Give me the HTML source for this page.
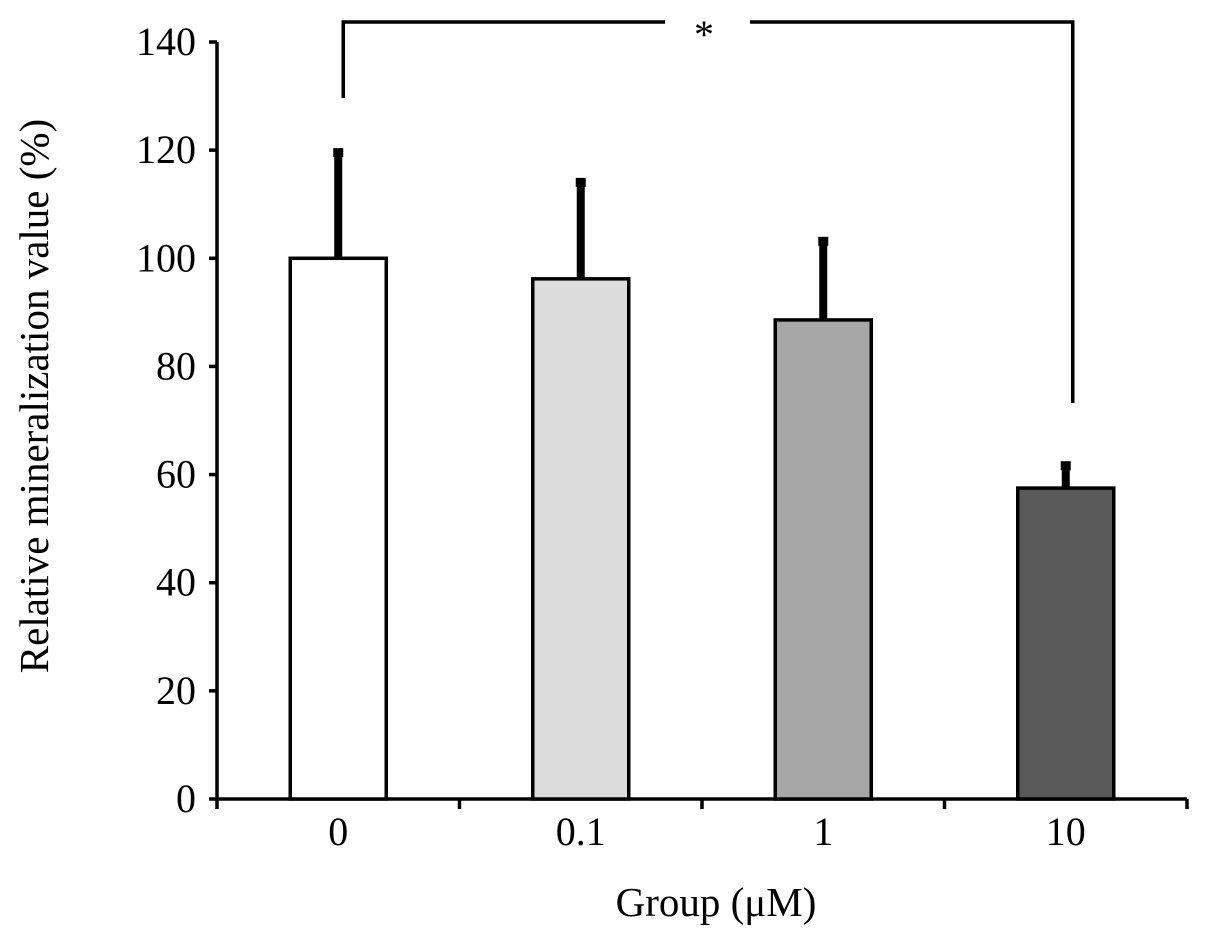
<!DOCTYPE html>
<html><head><meta charset="utf-8"><style>
html,body{margin:0;padding:0;background:#fff}
svg{display:block;font-family:"Liberation Serif",serif}
</style></head><body>
<svg width="1205" height="938" viewBox="0 0 1205 938">
<g id="chart"></g>
</svg>
<script>
const categories=["0","0.1","1","10"];
const values=[100,96.2,88.6,57.5];
const errors=[20,18.3,15,4.6];
const fills=["#ffffff","#dcdcdc","#a6a6a6","#595959"];
const yTicks=[0,20,40,60,80,100,120,140];
const NS="http://www.w3.org/2000/svg";
const g=document.getElementById('chart');
const x0=217,x1=1187,yBase=799,yTop=42,yMax=140;
const y=v=>yBase-(v/yMax)*(yBase-yTop);
const bw=(x1-x0)/categories.length;
const xc=i=>x0+bw*(i+0.5);
function el(t,a,txt){const e=document.createElementNS(NS,t);for(const k in a)e.setAttribute(k,a[k]);if(txt!==undefined)e.textContent=txt;g.appendChild(e);return e;}
let e;
e=el('line',{x1:x0,y1:yTop,x2:x0,y2:yBase+1,stroke:'#000','stroke-width':3.5});


e=el('line',{x1:x0-1,y1:yBase,x2:x1,y2:yBase,stroke:'#000','stroke-width':3.5});


yTicks.forEach(v=>{
 e=el('line',{x1:x0-8,y1:y(v),x2:x0,y2:y(v),stroke:'#000','stroke-width':3.5});
 
 
 e=el('text',{x:x0-21,y:y(v)+13,'text-anchor':'end','font-size':40},String(v));
 
 
});
for(let i=0;i<=categories.length;i++){
 e=el('line',{x1:x0+bw*i,y1:yBase,x2:x0+bw*i,y2:yBase+10,stroke:'#000','stroke-width':3.5});
 
 
}
categories.forEach((c,i)=>{
 const cx=xc(i);
 e=el('line',{x1:cx,y1:y(values[i]),x2:cx,y2:y(values[i]+errors[i]),stroke:'#000','stroke-width':8});
 
 
 e=el('rect',{x:cx-5,y:y(values[i]+errors[i])-2,width:10,height:9,fill:'#000'});
 
 
 e=el('rect',{x:cx-48,y:y(values[i]),width:96,height:yBase-y(values[i]),fill:fills[i],stroke:'#000','stroke-width':3.5});
 
 
 e=el('text',{x:cx,y:yBase+46,'text-anchor':'middle','font-size':40},c);
 
 
});
const bl=xc(0)+5,br=xc(3)+7;
e=el('path',{d:`M${bl},98 V22 H665 M750,22 H${br} V403`,fill:'none',stroke:'#000','stroke-width':3.5});


e=el('text',{x:704,y:48,'text-anchor':'middle','font-size':40},'*');


e=el('text',{x:716,y:916,'text-anchor':'middle','font-size':41},'Group (μM)');


e=el('text',{x:0,y:0,'text-anchor':'middle','font-size':41,transform:'translate(48,396) rotate(-90)'},'Relative  mineralization value (%)');


</script>
</body></html>
